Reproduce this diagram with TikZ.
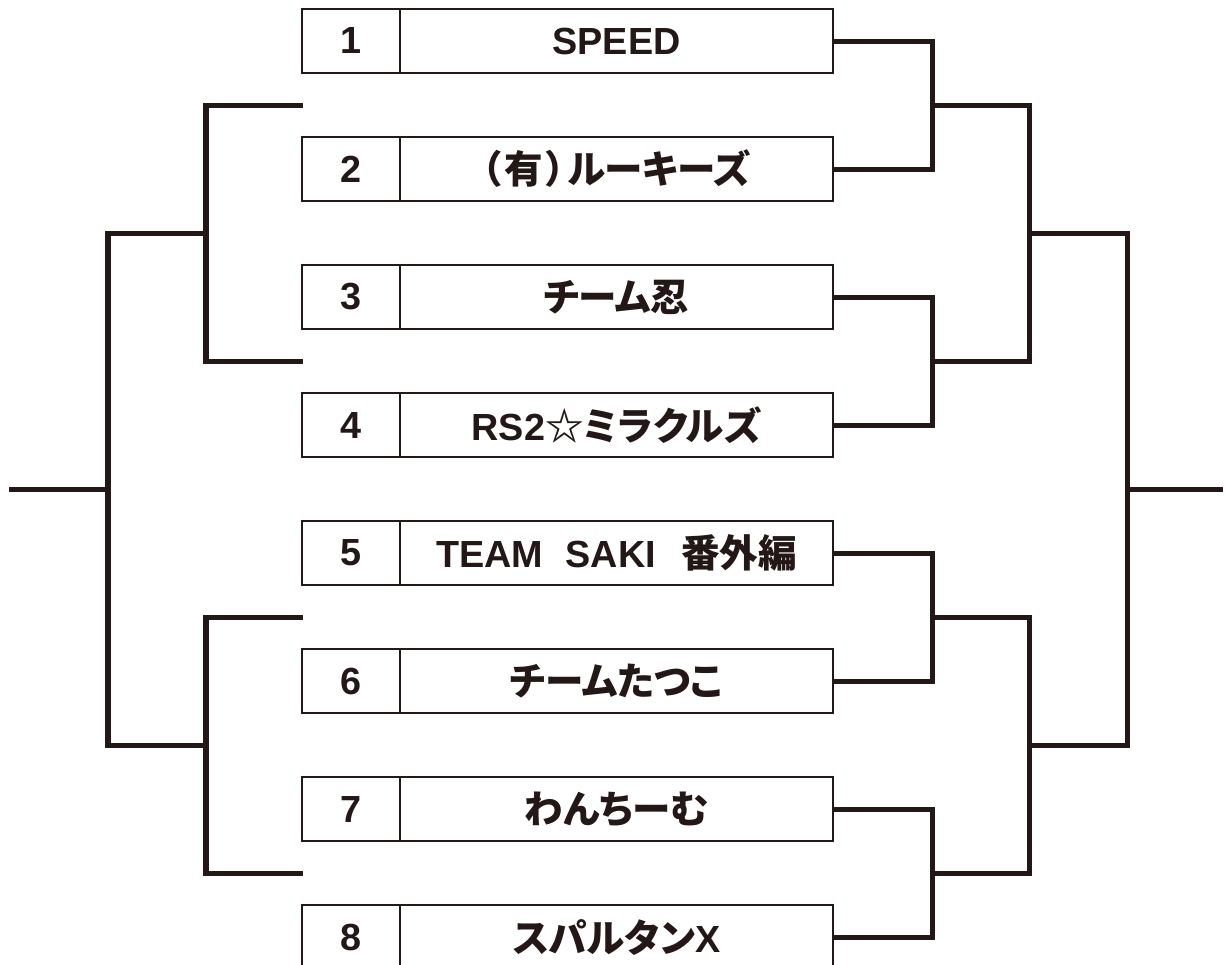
\documentclass[tikz,border=0pt]{standalone}
\usepackage{fontspec}
\setmainfont{Liberation Sans}
\newfontfamily\jp{Noto Sans CJK JP Bold}[RawFeature=+palt, Scale=1.02]
\usetikzlibrary{positioning}
\definecolor{ink}{HTML}{231815}

\begin{document}
\begin{tikzpicture}[x=0.02cm, y=-0.02cm,
	numbox/.style={draw=ink, line width=1.6pt, outer sep=0pt, inner sep=0pt,
		minimum width=1.96cm, minimum height=1.28cm, text=ink,
		font=\fontsize{21.5}{21.5}\selectfont\bfseries},
	namebox/.style={numbox, minimum width=8.66cm},
	bracket/.style={draw=ink, line width=2.85pt, line join=miter}]
		\clip (0,0) rectangle (1227,964);

\node[numbox] (N1) at (351,41) {1};
\node[namebox, right=0pt of N1] (T1) {SPEED};
\node[numbox] (N2) at (351,169) {2};
\node[namebox, right=0pt of N2] (T2) {\jp （\kern.08em 有\kern.08em ）\kern.05em ルーキーズ};
\node[numbox] (N3) at (351,297) {3};
\node[namebox, right=0pt of N3] (T3) {\jp チーム忍};
\node[numbox] (N4) at (351,425) {4};
\node[namebox, right=0pt of N4] (T4) {RS2{\jp ☆ミラクルズ}};
\node[numbox] (N5) at (351,553) {5};
\node[namebox, right=0pt of N5] (T5) {TEAM\hspace{0.45cm}SAKI\hspace{0.5cm}{\jp 番外編}};
\node[numbox] (N6) at (351,681) {6};
\node[namebox, right=0pt of N6] (T6) {\jp チームたつこ};
\node[numbox] (N7) at (351,809) {7};
\node[namebox, right=0pt of N7] (T7) {\jp わんちーむ};
\node[numbox] (N8) at (351,937) {8};
\node[namebox, right=0pt of N8] (T8) {{\jp スパルタン}X};

% right side
\coordinate (R12) at (932,105);
\coordinate (R34) at (932,361);
\coordinate (R56) at (932,617);
\coordinate (R78) at (932,873);
\coordinate (RA) at (1029,233);
\coordinate (RB) at (1029,745);
\coordinate (RF) at (1127,489);
\coordinate (REnd) at (1223,489);

\draw[bracket] (T1.east) -| (R12) |- (T2.east);
\draw[bracket] (T3.east) -| (R34) |- (T4.east);
\draw[bracket] (T5.east) -| (R56) |- (T6.east);
\draw[bracket] (T7.east) -| (R78) |- (T8.east);
\draw[bracket] (R12) -| (RA) |- (R34);
\draw[bracket] (R56) -| (RB) |- (R78);
\draw[bracket] (RA) -| (RF) |- (RB);
\draw[bracket] (RF) -- (REnd);

% left side
\coordinate (L12) at (303,105);
\coordinate (L34) at (303,361);
\coordinate (L56) at (303,617);
\coordinate (L78) at (303,873);
\coordinate (LA) at (206,233);
\coordinate (LB) at (206,745);
\coordinate (LF) at (108,489);
\coordinate (LEnd) at (9,489);

\draw[bracket] (L12) -| (LA) |- (L34);
\draw[bracket] (L56) -| (LB) |- (L78);
\draw[bracket] (LA) -| (LF) |- (LB);
\draw[bracket] (LF) -- (LEnd);
	\end{tikzpicture}
\end{document}
